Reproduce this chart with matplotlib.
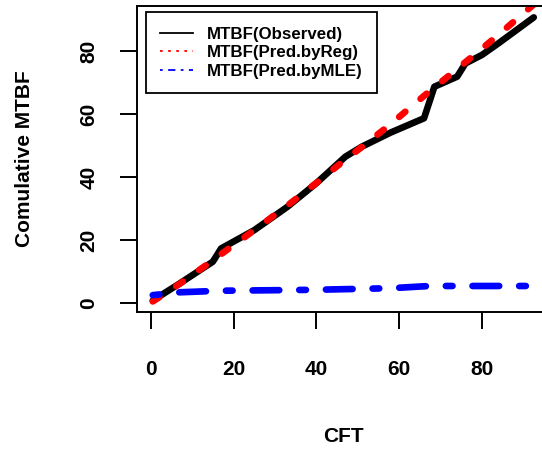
import matplotlib
matplotlib.use("Agg")
import matplotlib.pyplot as plt
from matplotlib.lines import Line2D

plt.rcParams["font.family"] = ["Liberation Sans", "DejaVu Sans"]
plt.rcParams["font.weight"] = "bold"

# data
cft = [0.5, 7, 15, 17, 25, 33, 40, 47, 51, 58, 66, 68.5, 74, 76, 80, 84, 92.5]
mtbf_obs = [0.9, 6.3, 13.2, 17.4, 23.2, 30.6, 38.1, 46.5, 49.7, 54.2, 58.7,
            68.7, 71.9, 76.1, 78.8, 82.5, 90.7]
mtbf_reg = [0.6, 6.2, 13.6, 15.6, 23.2, 31.0, 38.2, 45.6, 49.6, 56.9, 65.8,
            68.5, 74.3, 76.5, 80.8, 85.2, 94.8]
mtbf_mle = [2.6, 3.5, 3.9, 4.0, 4.1, 4.2, 4.3, 4.5, 4.6, 4.8, 5.4,
            5.5, 5.5, 5.5, 5.5, 5.5, 5.5]
labels = ["MTBF(Observed)", "MTBF(Pred.byReg)", "MTBF(Pred.byMLE)"]
ticks = [0, 20, 40, 60, 80]

fig = plt.figure(figsize=(5.42, 4.5), dpi=100)
ax = fig.add_axes([0.2533, 0.3073, 0.759, 0.6793])

LW = 4.8
ax.plot(cft, mtbf_obs, color="black", lw=LW, solid_capstyle="round",
        solid_joinstyle="round")
ax.plot(cft, mtbf_reg, color="#ff0000", lw=LW, dashes=(1.2, 3.0),
        dash_capstyle="round")
ax.plot(cft, mtbf_mle, color="#0000ff", lw=LW, dashes=(1, 3, 4, 3),
        dash_capstyle="round")

ax.set_xlim(-3.24, 96.1)
ax.set_ylim(-2.66, 94.3)
ax.set_xticks(ticks)
ax.set_yticks(ticks)
ax.set_yticklabels([str(t) for t in ticks], rotation=90, va="center")
ax.tick_params(axis="both", direction="out", length=12, width=1.4,
               labelsize=15, color="black")
ax.tick_params(axis="x", pad=23)
ax.tick_params(axis="y", pad=16)
for s in ax.spines.values():
    s.set_linewidth(1.4)

ax.set_xlabel("CFT", fontsize=15, fontweight="bold", va="center")
ax.xaxis.set_label_coords(0.5, -0.409)
ax.set_ylabel("Comulative MTBF", fontsize=15, fontweight="bold", va="center")
ax.yaxis.set_label_coords(-0.273, 0.5)

handles = [
    Line2D([], [], color="black", lw=1.3),
    Line2D([], [], color="#ff0000", lw=1.3, dashes=(1.5, 3)),
    Line2D([], [], color="#0000ff", lw=1.3, dashes=(1.5, 3, 4, 3)),
]
leg = ax.legend(handles, labels, loc="upper left",
                bbox_to_anchor=(0.021, 0.979), prop={"size": 12.2, "weight": "bold"},
                fancybox=False, framealpha=1, edgecolor="black",
                handlelength=1.9, handletextpad=0.85, labelspacing=0.2,
                borderpad=0.85, borderaxespad=0)
leg.get_frame().set_linewidth(1.3)

fig.savefig("out.png", dpi=100)
